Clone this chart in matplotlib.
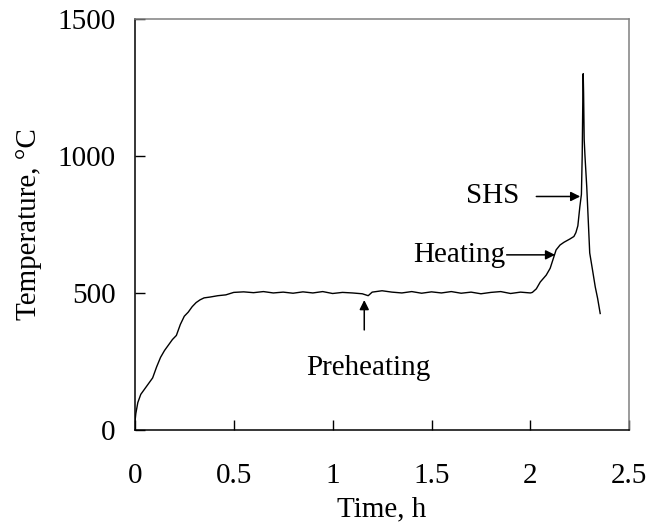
import matplotlib
matplotlib.use("Agg")
import matplotlib.pyplot as plt
import numpy as np

plt.rcParams['font.family'] = ['Liberation Serif', 'DejaVu Serif']

# time (h) and temperature (C)
time_h = [0.0, 0.005, 0.015, 0.03, 0.05, 0.07, 0.09, 0.11, 0.13, 0.15,
          0.17, 0.19, 0.21, 0.23, 0.25, 0.27, 0.29, 0.31, 0.33, 0.35,
          0.38, 0.42, 0.46, 0.50, 0.55, 0.60, 0.65, 0.70, 0.75, 0.80,
          0.85, 0.90, 0.95, 1.00, 1.05, 1.10, 1.15, 1.18, 1.20, 1.25,
          1.30, 1.35, 1.40, 1.45, 1.50, 1.55, 1.60, 1.65, 1.70, 1.75,
          1.80, 1.85, 1.90, 1.95, 2.00, 2.01, 2.03, 2.05, 2.08, 2.10,
          2.13, 2.15, 2.17, 2.20, 2.22, 2.23, 2.24, 2.25, 2.258, 2.262,
          2.265, 2.267, 2.269, 2.272, 2.276, 2.285, 2.30, 2.315, 2.328, 2.34,
          2.353]
temp_c = [25, 60, 100, 130, 150, 170, 190, 230, 265, 290,
          310, 330, 345, 385, 415, 430, 450, 465, 475, 482,
          485, 490, 493, 502, 504, 501, 505, 500, 503, 499,
          504, 500, 505, 498, 502, 500, 497, 490, 503, 508,
          503, 500, 505, 499, 504, 500, 505, 499, 503, 497,
          502, 505, 498, 503, 500, 502, 515, 540, 565, 590,
          657, 675, 685, 697, 706, 720, 745, 814, 860, 1000,
          1200, 1300, 1230, 1060, 1000, 887, 646, 580, 522, 480,
          425]

x_ticks = [0, 0.5, 1, 1.5, 2, 2.5]
x_tick_labels = ['0', '0.5', '1', '1.5', '2', '2.5']
y_ticks = [0, 500, 1000, 1500]

fs = 21

fig = plt.figure(figsize=(6.61, 5.25), dpi=100)
ax = fig.add_axes([0.204, 0.181, 0.748, 0.783])

ax.plot(time_h, temp_c, color='black', lw=1.0)

ax.set_xlim(0, 2.5)
ax.set_ylim(0, 1500)
ax.set_xticks(x_ticks)
ax.set_xticklabels(x_tick_labels)
ax.set_yticks(y_ticks)
ax.tick_params(direction='in', length=7, width=1, labelsize=fs)
ax.tick_params(axis='x', pad=24)
ax.tick_params(axis='y', pad=14)

for s in ['left', 'bottom']:
    ax.spines[s].set_color('black')
    ax.spines[s].set_linewidth(1.1)
for s in ['top', 'right']:
    ax.spines[s].set_color('#808080')
    ax.spines[s].set_linewidth(1.1)

ax.set_xlabel('Time, h', fontsize=fs, labelpad=5)
ax.set_ylabel('Temperature, °C', fontsize=fs, labelpad=11)

arrow = dict(arrowstyle='-|>', color='black', lw=1.1, mutation_scale=14, shrinkA=0, shrinkB=0)
ax.annotate('', xy=(1.16, 474), xytext=(1.16, 365), arrowprops=arrow)
ax.text(1.18, 226, 'Preheating', fontsize=fs, ha='center', va='center')

ax.annotate('', xy=(2.125, 639), xytext=(1.88, 639), arrowprops=arrow)
ax.text(1.875, 639, 'Heating', fontsize=fs, ha='right', va='center')

ax.annotate('', xy=(2.252, 852), xytext=(2.03, 852), arrowprops=arrow)
ax.text(1.945, 852, 'SHS', fontsize=fs, ha='right', va='center')

fig.savefig('out.png', dpi=100)
